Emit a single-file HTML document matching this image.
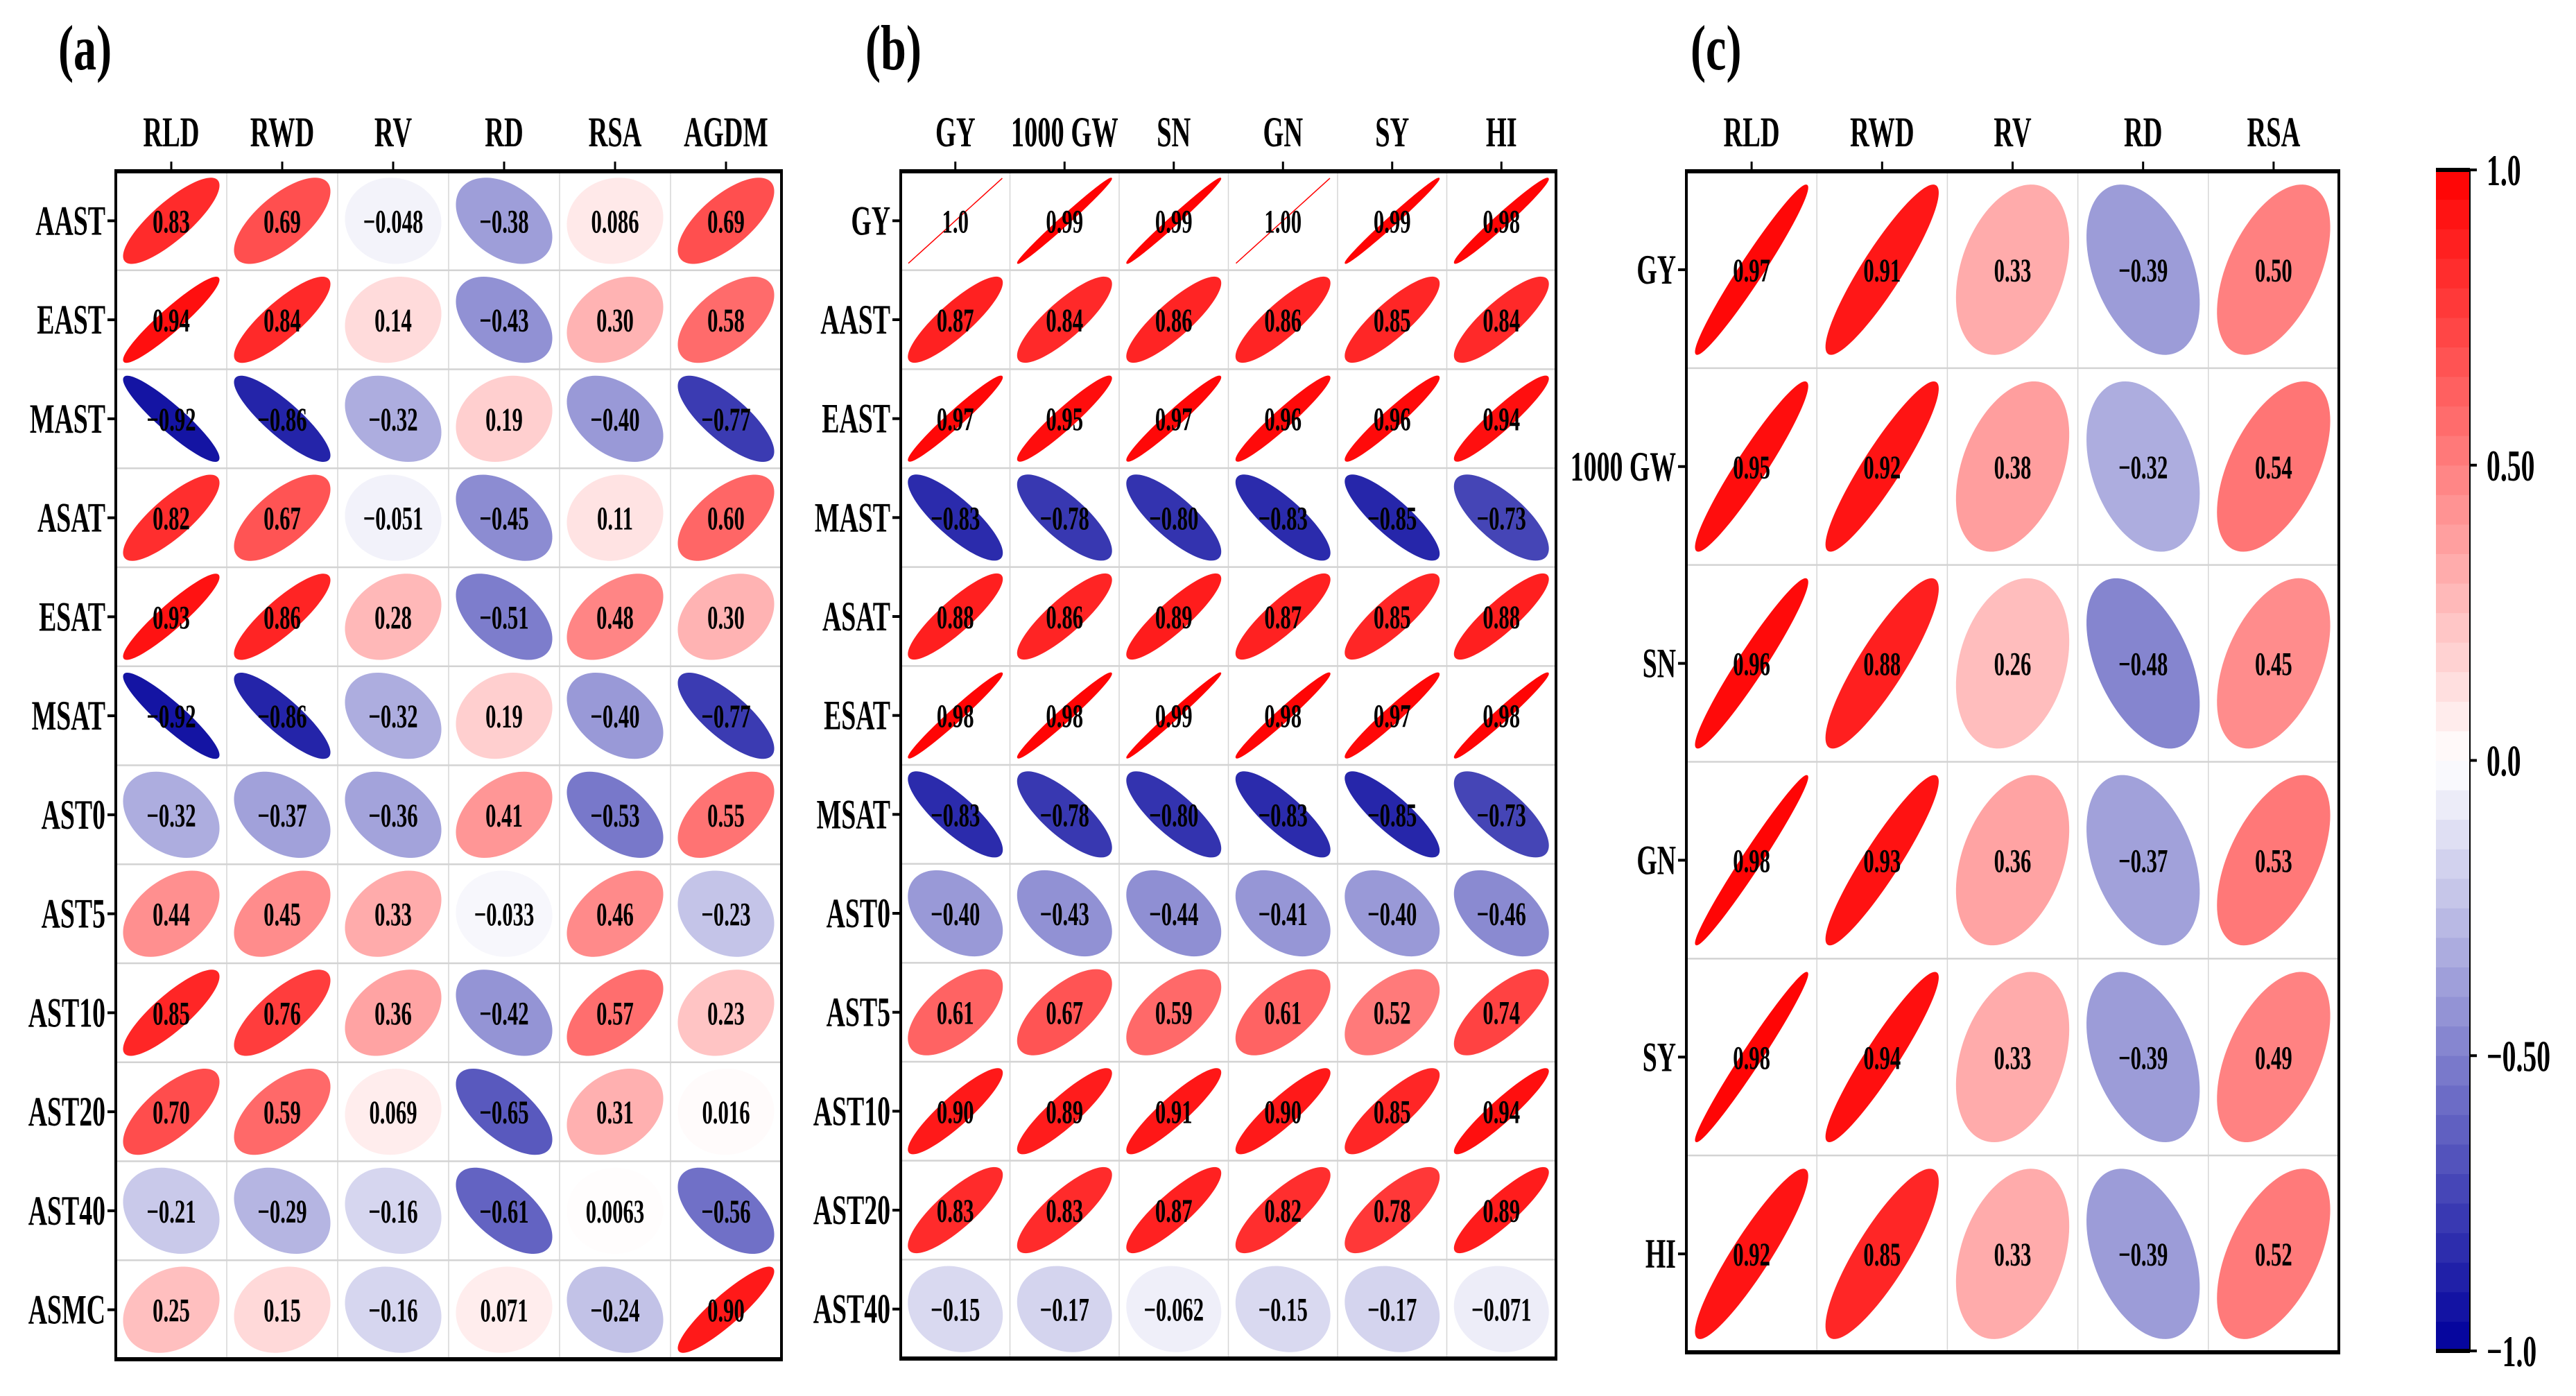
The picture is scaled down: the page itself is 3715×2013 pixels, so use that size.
<!DOCTYPE html>
<html><head><meta charset="utf-8"><style>
html,body{margin:0;padding:0;background:#fff;}
svg{display:block;}
text{font-family:"Liberation Serif","DejaVu Serif",serif;}
</style></head><body>
<svg id="fig" width="3715" height="2013" viewBox="0 0 3715 2013" xmlns="http://www.w3.org/2000/svg">
<rect x="0" y="0" width="3715" height="2013" fill="#fff"/>
</svg>
<script>
// ---- Panel (a) data ----
const aRows = ["AAST","EAST","MAST","ASAT","ESAT","MSAT","AST0","AST5","AST10","AST20","AST40","ASMC"];
const aCols = ["RLD","RWD","RV","RD","RSA","AGDM"];
const aValues = [
 [0.83,0.69,-0.048,-0.38,0.086,0.69],
 [0.94,0.84,0.14,-0.43,0.30,0.58],
 [-0.92,-0.86,-0.32,0.19,-0.40,-0.77],
 [0.82,0.67,-0.051,-0.45,0.11,0.60],
 [0.93,0.86,0.28,-0.51,0.48,0.30],
 [-0.92,-0.86,-0.32,0.19,-0.40,-0.77],
 [-0.32,-0.37,-0.36,0.41,-0.53,0.55],
 [0.44,0.45,0.33,-0.033,0.46,-0.23],
 [0.85,0.76,0.36,-0.42,0.57,0.23],
 [0.70,0.59,0.069,-0.65,0.31,0.016],
 [-0.21,-0.29,-0.16,-0.61,0.0063,-0.56],
 [0.25,0.15,-0.16,0.071,-0.24,0.90]
];
// ---- Panel (b) data ----
const bRows = ["GY","AAST","EAST","MAST","ASAT","ESAT","MSAT","AST0","AST5","AST10","AST20","AST40"];
const bCols = ["GY","1000 GW","SN","GN","SY","HI"];
const bValues = [
 [1.0,0.99,0.99,1.00,0.99,0.98],
 [0.87,0.84,0.86,0.86,0.85,0.84],
 [0.97,0.95,0.97,0.96,0.96,0.94],
 [-0.83,-0.78,-0.80,-0.83,-0.85,-0.73],
 [0.88,0.86,0.89,0.87,0.85,0.88],
 [0.98,0.98,0.99,0.98,0.97,0.98],
 [-0.83,-0.78,-0.80,-0.83,-0.85,-0.73],
 [-0.40,-0.43,-0.44,-0.41,-0.40,-0.46],
 [0.61,0.67,0.59,0.61,0.52,0.74],
 [0.90,0.89,0.91,0.90,0.85,0.94],
 [0.83,0.83,0.87,0.82,0.78,0.89],
 [-0.15,-0.17,-0.062,-0.15,-0.17,-0.071]
];
const bLabelOverrides = {"0,3":"1.00"};
// ---- Panel (c) data ----
const cRows = ["GY","1000 GW","SN","GN","SY","HI"];
const cCols = ["RLD","RWD","RV","RD","RSA"];
const cValues = [
 [0.97,0.91,0.33,-0.39,0.50],
 [0.95,0.92,0.38,-0.32,0.54],
 [0.96,0.88,0.26,-0.48,0.45],
 [0.98,0.93,0.36,-0.37,0.53],
 [0.98,0.94,0.33,-0.39,0.49],
 [0.92,0.85,0.33,-0.39,0.52]
];
// ---- Colorbar ticks ----
const cbTicks = [1.0,0.5,0.0,-0.5,-1.0];
const cbTickLabels = ["1.0","0.50","0.0","\u22120.50","\u22121.0"];

const NS="http://www.w3.org/2000/svg";
const svg=document.getElementById('fig');
function el(tag,attrs,parent){const e=document.createElementNS(NS,tag);for(const k in attrs)e.setAttribute(k,attrs[k]);(parent||svg).appendChild(e);return e;}
function txt(parent,x,y,s,size,anchor,sx,weight){
  const t=el('text',{transform:`translate(${x},${y}) scale(${sx},1)`,'font-size':size,'text-anchor':anchor,'font-weight':weight||'bold',fill:'#000','font-family':'"Liberation Serif","DejaVu Serif",serif'},parent);
  t.textContent=s;return t;
}
function color(v){
  v=Math.max(-1,Math.min(1,v));
  if(v>=0){const c=Math.round(255*(1-v));return `rgb(255,${c},${c})`;}
  const t=-v;const rg=Math.round(255*(1-t));const b=Math.round(255*(1-t)+155*t);
  return `rgb(${rg},${rg},${b})`;
}
function fmt(v){
  const a=Math.abs(v);let s;
  if(a>=0.1||a===0) s=a.toFixed(2); else s=a.toPrecision(2);
  if(a===1) s="1.0";
  return (v<0?"\u2212":"")+s;
}
function ellipsePath(cx,cy,hw,hh,r){
  const a=Math.acos(Math.max(-1,Math.min(1,r)));
  let d="";
  for(let i=0;i<=100;i++){
    const k=2*Math.PI*i/100;
    const x=cx+hw*Math.cos(k+a/2);
    const y=cy-hh*Math.cos(k-a/2);
    d+=(i?"L":"M")+x.toFixed(2)+","+y.toFixed(2);
  }
  return d+"Z";
}
function panel(name,x0,y0,x1,y1,rows,cols,vals,letter,letterX,overrides){
  const g=el('g',{});
  
  
  const cw=(x1-x0)/cols.length, rh=(y1-y0)/rows.length;
  const colX=j=>x0+cw*(j+0.5);
  const rowY=i=>y0+rh*(i+0.5);
  for(let j=1;j<cols.length;j++) el('line',{x1:x0+cw*j,y1:y0,x2:x0+cw*j,y2:y1,stroke:'#d6d6d6','stroke-width':1.5},g);
  for(let i=1;i<rows.length;i++) el('line',{x1:x0,y1:y0+rh*i,x2:x1,y2:y0+rh*i,stroke:'#d3d3d3','stroke-width':2.5},g);
  for(let i=0;i<rows.length;i++){
    for(let j=0;j<cols.length;j++){
      const v=vals[i][j];
      const p=el('path',{d:ellipsePath(colX(j),rowY(i),0.43*cw,0.43*rh,v),fill:color(v),stroke:color(v),'stroke-width':1.5},g);
      
      
      const lab=(overrides&&overrides[i+','+j])||fmt(v);
      const t=txt(g,colX(j),rowY(i)+17,lab,48,'middle',0.64);
      
      
    }
  }
  el('rect',{x:x0,y:y0,width:x1-x0,height:y1-y0,fill:'none',stroke:'#000','stroke-width':4},g);
  el('line',{x1:x0-2,y1:y0,x2:x1+2,y2:y0,stroke:'#000','stroke-width':6},g);
  el('line',{x1:x0-2,y1:y1,x2:x1+2,y2:y1,stroke:'#000','stroke-width':6},g);
  cols.forEach((c,j)=>{
    el('line',{x1:colX(j),y1:y0-14,x2:colX(j),y2:y0,stroke:'#000','stroke-width':3},g);
    const t=txt(g,colX(j),211,c,61,'middle',0.63);
    
    
  });
  rows.forEach((r,i)=>{
    el('line',{x1:x0-12,y1:rowY(i),x2:x0,y2:rowY(i),stroke:'#000','stroke-width':4},g);
    const t=txt(g,x0-15,rowY(i)+20,r,60,'end',0.63);
    
    
  });
  const L=txt(g,letterX,100,letter,92,'start',0.72,'bold');
  
  
}
panel('panel-a',167,247,1127,1960,aRows,aCols,aValues,'(a)',84,null);
panel('panel-b',1299,247,2244,1959,bRows,bCols,bValues,'(b)',1248,bLabelOverrides);
panel('panel-c',2432,247,3373,1950,cRows,cCols,cValues,'(c)',2438,null);

const cb=el('g',{});


const cbX=3513,cbW=49,cbTop=245,cbBot=1948;
const cbY=v=>cbTop+(1-v)/2*(cbBot-cbTop);
const nb=40;
for(let b=0;b<nb;b++){
  const v0=-1+2*b/nb, v1=-1+2*(b+1)/nb;
  el('rect',{x:cbX,y:cbY(v1),width:cbW,height:cbY(v0)-cbY(v1)+0.5,fill:color((v0+v1)/2)},cb);
}
el('line',{x1:cbX,y1:cbTop,x2:cbX+cbW,y2:cbTop,stroke:'#000','stroke-width':6},cb);
el('line',{x1:cbX,y1:cbBot,x2:cbX+cbW,y2:cbBot,stroke:'#000','stroke-width':6},cb);
el('line',{x1:cbX+cbW,y1:cbTop,x2:cbX+cbW,y2:cbBot,stroke:'#000','stroke-width':2},cb);
cbTicks.forEach((v,i)=>{
  el('line',{x1:cbX+cbW,y1:cbY(v),x2:cbX+cbW+10,y2:cbY(v),stroke:'#000','stroke-width':4},cb);
  const t=txt(cb,3586,cbY(v)+22,cbTickLabels[i],64,'start',0.62);
  
  
});
</script>
</body></html>
